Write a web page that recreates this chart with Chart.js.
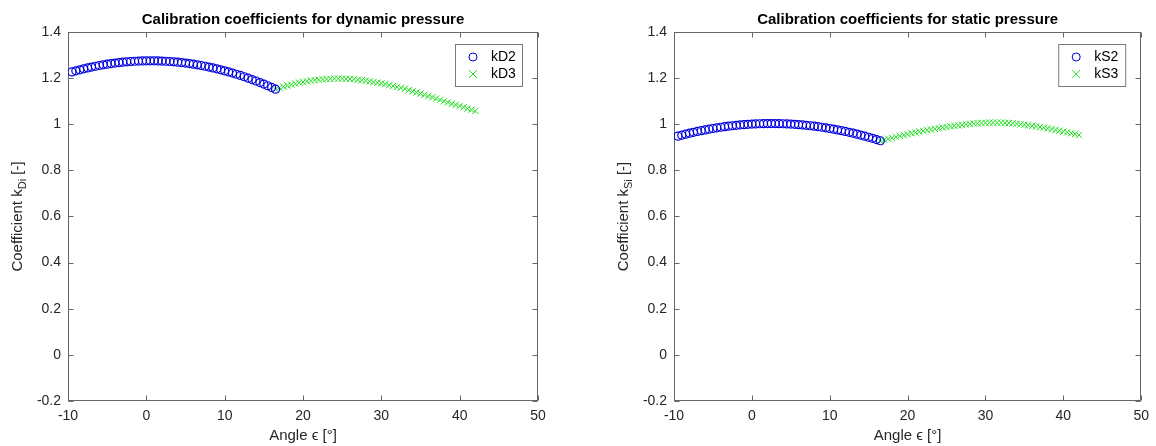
<!DOCTYPE html>
<html>
<head>
<meta charset="utf-8">
<script src="https://cdn.jsdelivr.net/npm/chart.js@4.4.1/dist/chart.umd.min.js"></script>
<style>
html, body { margin: 0; padding: 0; background: #fff; }
.panel { position: absolute; top: 0; width: 578px; height: 446px; }
</style>
</head>
<body>
<div class="panel" style="left:0"><canvas id="dynamic"></canvas></div>
<div class="panel" style="left:578px"><canvas id="static"></canvas></div>
<script>
// angles of the two calibration ranges
var angle2 = [-9.5,-9,-8.5,-8,-7.5,-7,-6.5,-6,-5.5,-5,-4.5,-4,-3.5,-3,-2.5,-2,-1.5,-1,-0.5,0,0.5,
  1,1.5,2,2.5,3,3.5,4,4.5,5,5.5,6,6.5,7,7.5,8,8.5,9,9.5,10,10.5,11,11.5,12,12.5,13,13.5,14,14.5,15,15.5,16,16.5];
var angle3 = [16.5,17,17.5,18,18.5,19,19.5,20,20.5,21,21.5,22,22.5,23,23.5,24,24.5,25,25.5,26,26.5,27,27.5,28,28.5,29,29.5,30,
  30.5,31,31.5,32,32.5,33,33.5,34,34.5,35,35.5,36,36.5,37,37.5,38,38.5,39,39.5,40,40.5,41,41.5,42];

// dynamic pressure coefficients
var kD2 = [1.227,1.2317,1.2361,1.2403,1.2443,1.248,1.2515,1.2547,1.2577,1.2605,1.263,1.2653,1.2673,1.2691,1.2707,1.272,1.2731,1.2739,1.2745,1.2749,1.275,
  1.2749,1.2745,1.2739,1.2731,1.272,1.2707,1.2691,1.2673,1.2653,1.263,1.2605,1.2577,1.2547,1.2515,1.248,1.2443,1.2403,1.2361,1.2317,1.227,1.2221,1.2169,1.2115,1.2059,1.2,1.1939,1.1875,1.1809,1.1741,1.167,1.1597,1.1521];
var kD3 = [1.152,1.158,1.163,1.168,1.172,1.176,1.180,1.183,1.186,1.189,1.191,1.193,1.195,1.196,1.197,1.198,1.198,1.198,1.197,1.196,1.195,1.193,1.191,1.189,1.186,1.183,1.180,1.177,
  1.174,1.170,1.166,1.162,1.158,1.153,1.148,1.143,1.138,1.133,1.128,1.122,1.117,1.111,1.106,1.100,1.095,1.089,1.084,1.079,1.074,1.068,1.063,1.058];

// static pressure coefficients
var kS2 = [0.9483,0.9527,0.957,0.9611,0.965,0.9687,0.9722,0.9755,0.9787,0.9816,0.9844,0.9869,0.9893,0.9915,0.9935,0.9953,0.9969,0.9983,0.9996,1.0006,1.0015,1.0021,1.0026,1.0029,1.003,
  1.0029,1.0026,1.0021,1.0015,1.0006,0.9996,0.9983,0.9969,0.9953,0.9935,0.9915,0.9893,0.9869,0.9844,0.9816,0.9787,0.9755,0.9722,0.9687,0.965,0.9611,0.957,0.9527,0.9483,0.9436,0.9388,0.9337,0.9285];
var kS3 = [0.927,0.932,0.937,0.941,0.945,0.949,0.953,0.957,0.961,0.964,0.968,0.971,0.974,0.977,0.980,0.983,0.986,0.988,0.991,0.993,0.995,0.997,0.999,1.001,1.003,1.004,1.005,1.006,
  1.007,1.007,1.007,1.007,1.006,1.005,1.004,1.002,1.000,0.998,0.996,0.993,0.991,0.988,0.985,0.982,0.979,0.975,0.972,0.968,0.965,0.961,0.957,0.953];

var xTicks = [-10, 0, 10, 20, 30, 40, 50];
var yTicks = [-0.2, 0, 0.2, 0.4, 0.6, 0.8, 1, 1.2, 1.4];

var FONT = '"Liberation Sans", Arial, Helvetica, sans-serif';
var AXIS_COLOR = '#666666';
var TEXT_COLOR = '#262626';

function pts(xs, ys) {
  return xs.map(function (a, i) { return { x: a, y: ys[i] }; });
}

// axes box, inward ticks, title and axis labels like a matlab figure
var framePlugin = {
  id: 'matlabFrame',
  beforeDatasetsDraw: function (chart, args, o) {
    var ctx = chart.ctx, a = chart.chartArea;
    var xs = chart.scales.x, ys = chart.scales.y;
    var L = Math.round(a.left) + 0.5, R = Math.round(a.right) - 0.5;
    var T = Math.round(a.top) + 0.5, B = Math.round(a.bottom) - 0.5;
    ctx.save();
    ctx.strokeStyle = AXIS_COLOR;
    ctx.lineWidth = 1;
    ctx.strokeRect(L, T, R - L, B - T);
    ctx.beginPath();
    xTicks.forEach(function (v) {
      var px = Math.round(xs.getPixelForValue(v)) + 0.5;
      ctx.moveTo(px, B); ctx.lineTo(px, B - 5);
      ctx.moveTo(px, T); ctx.lineTo(px, T + 5);
    });
    yTicks.forEach(function (v) {
      var py = Math.round(ys.getPixelForValue(v)) + 0.5;
      ctx.moveTo(L, py); ctx.lineTo(L + 5, py);
      ctx.moveTo(R, py); ctx.lineTo(R - 5, py);
    });
    ctx.stroke();
    ctx.restore();
  },
  afterDraw: function (chart, args, o) {
    var ctx = chart.ctx, a = chart.chartArea;
    var cx = (a.left + a.right) / 2, cy = (a.top + a.bottom) / 2;
    ctx.save();
    // title
    ctx.fillStyle = '#000';
    ctx.textAlign = 'center';
    ctx.textBaseline = 'middle';
    ctx.font = 'bold 15px ' + FONT;
    ctx.fillText(o.title, cx, 20);
    // x label
    ctx.fillStyle = TEXT_COLOR;
    ctx.font = '15px ' + FONT;
    ctx.fillText('Angle \u03f5 [\u00b0]', cx, 436);
    // y label with subscript
    ctx.translate(a.left - 50, cy);
    ctx.rotate(-Math.PI / 2);
    ctx.textAlign = 'left';
    var p1 = 'Coefficient k', p3 = ' [-]';
    ctx.font = '15px ' + FONT;
    var w1 = ctx.measureText(p1).width, w3 = ctx.measureText(p3).width;
    ctx.font = '11px ' + FONT;
    var w2 = ctx.measureText(o.sub).width;
    var x0 = -(w1 + w2 + w3) / 2;
    ctx.font = '15px ' + FONT;
    ctx.fillText(p1, x0, 0);
    ctx.font = '11px ' + FONT;
    ctx.fillText(o.sub, x0 + w1, 5);
    ctx.font = '15px ' + FONT;
    ctx.fillText(p3, x0 + w1 + w2, 0);
    ctx.restore();

    // legend box
    var lx = a.right - 83, lw = 68, ly = 44, lh = 43;
    ctx.save();
    ctx.fillStyle = '#fff';
    ctx.fillRect(lx, ly, lw, lh);
    ctx.strokeStyle = '#7a7a7a';
    ctx.lineWidth = 1;
    ctx.strokeRect(lx + 0.5, ly + 0.5, lw - 1, lh - 1);
    chart.data.datasets.forEach(function (ds, i) {
      var my = ly + 13 + i * 17, mx = lx + 18;
      ctx.strokeStyle = ds.borderColor;
      ctx.lineWidth = 1;
      ctx.beginPath();
      if (ds.pointStyle === 'circle') {
        ctx.arc(mx, my, 4, 0, Math.PI * 2);
      } else {
        ctx.moveTo(mx - 4, my - 4); ctx.lineTo(mx + 4, my + 4);
        ctx.moveTo(mx + 4, my - 4); ctx.lineTo(mx - 4, my + 4);
      }
      ctx.stroke();
      ctx.fillStyle = '#000';
      ctx.font = '14px ' + FONT;
      ctx.textAlign = 'left';
      ctx.textBaseline = 'middle';
      ctx.fillText(ds.label, lx + 36, my);
    });
    ctx.restore();
  }
};

function makeChart(id, opt) {
  var ctx = document.getElementById(id).getContext('2d');
  return new Chart(ctx, {
    type: 'scatter',
    data: {
      datasets: [
        {
          label: opt.names[0],
          data: pts(angle2, opt.s2),
          pointStyle: 'circle',
          pointRadius: 4,
          pointBorderWidth: 1.2,
          borderColor: '#0000e0',
          backgroundColor: 'rgba(0,0,0,0)'
        },
        {
          label: opt.names[1],
          data: pts(angle3, opt.s3),
          pointStyle: 'crossRot',
          pointRadius: 4.5,
          pointBorderWidth: 1,
          borderColor: '#22dd22',
          backgroundColor: '#22dd22'
        }
      ]
    },
    options: {
      responsive: true,
      maintainAspectRatio: false,
      animation: false,
      events: [],
      layout: { padding: { top: 32, right: opt.rightPad, bottom: 0, left: 0 } },
      plugins: {
        legend: { display: false },
        tooltip: { enabled: false },
        title: { display: false },
        matlabFrame: { title: opt.title, sub: opt.sub }
      },
      scales: {
        x: {
          type: 'linear',
          min: -10, max: 50,
          afterBuildTicks: function (s) { s.ticks = xTicks.map(function (v) { return { value: v }; }); },
          afterFit: function (s) { s.height = 45; },
          grid: { display: false, drawTicks: false },
          border: { display: false },
          ticks: {
            padding: 7,
            color: TEXT_COLOR,
            font: { family: FONT, size: 14 },
            maxRotation: 0,
            callback: function (v) { return String(v); }
          }
        },
        y: {
          type: 'linear',
          min: -0.2, max: 1.4,
          afterBuildTicks: function (s) { s.ticks = yTicks.map(function (v) { return { value: v }; }); },
          afterFit: function (s) { s.width = opt.yWidth; },
          grid: { display: false, drawTicks: false },
          border: { display: false },
          ticks: {
            padding: 7,
            color: TEXT_COLOR,
            font: { family: FONT, size: 14 },
            callback: function (v) { return String(Math.round(v * 10) / 10); }
          }
        }
      }
    },
    plugins: [framePlugin]
  });
}

makeChart('dynamic', {
  title: 'Calibration coefficients for dynamic pressure',
  sub: 'Di',
  names: ['kD2', 'kD3'],
  s2: kD2, s3: kD3,
  yWidth: 68, rightPad: 40
});

makeChart('static', {
  title: 'Calibration coefficients for static pressure',
  sub: 'Si',
  names: ['kS2', 'kS3'],
  s2: kS2, s3: kS3,
  yWidth: 96, rightPad: 14
});
</script>
</body>
</html>
